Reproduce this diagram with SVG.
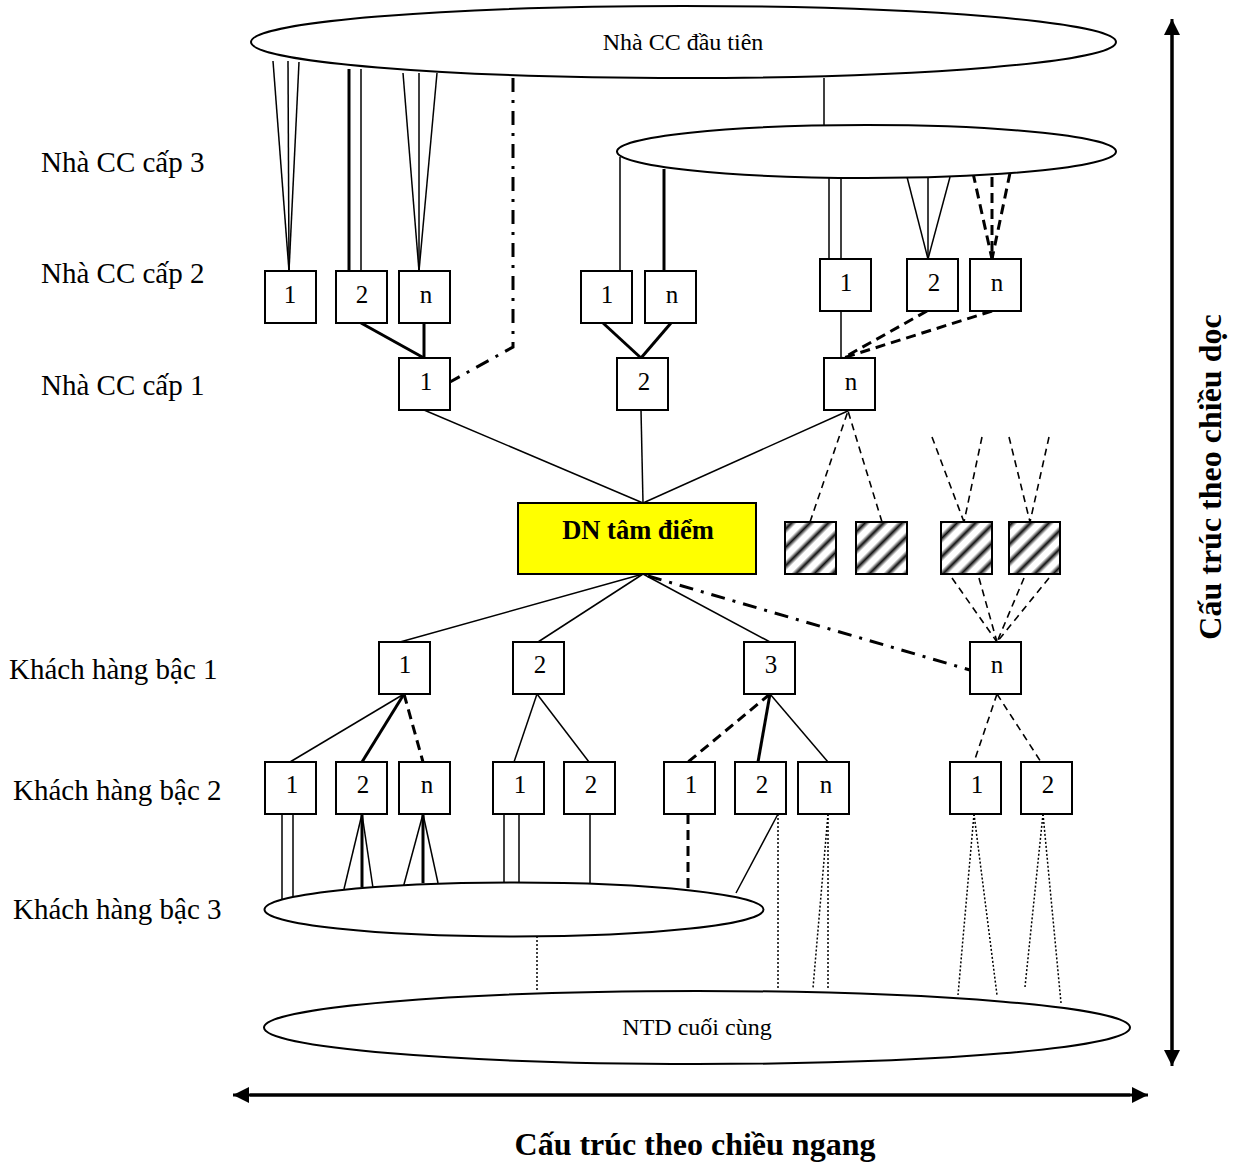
<svg xmlns="http://www.w3.org/2000/svg" width="1243" height="1164" viewBox="0 0 1243 1164">
<style>
.bx{fill:#fff;stroke:#000;stroke-width:2}
.el{fill:#fff;stroke:#000;stroke-width:2}
.t{font-family:"Liberation Serif","Times New Roman",serif;fill:#000}
.lbl{font-size:29px}
.num{font-size:25px;text-anchor:middle}
.ell{font-size:24px;text-anchor:middle}
.ttl{font-size:32px;font-weight:bold;text-anchor:middle}
.th{stroke:#000;stroke-width:1.5;fill:none}
.tk{stroke:#000;stroke-width:3;fill:none}
.dk{stroke:#000;stroke-width:3;fill:none;stroke-dasharray:10 6}
.dn{stroke:#000;stroke-width:1.6;fill:none;stroke-dasharray:7 5}
.dd{stroke:#000;stroke-width:3;fill:none;stroke-dasharray:14 8 3 8}
.dt{stroke:#000;stroke-width:1.5;fill:none;stroke-dasharray:2 2}
</style>
<defs>
<linearGradient id="sg" x1="0" y1="0" x2="1" y2="0">
<stop offset="0" stop-color="#fff"/>
<stop offset="0.2" stop-color="#fff"/>
<stop offset="0.5" stop-color="#111"/>
<stop offset="0.8" stop-color="#fff"/>
<stop offset="1" stop-color="#fff"/>
</linearGradient>
<pattern id="hatch" width="13" height="13" patternUnits="userSpaceOnUse" patternTransform="rotate(45)">
<rect x="0" y="0" width="13" height="13" fill="url(#sg)"/>
</pattern>
<marker id="ah" viewBox="0 0 10 10" refX="10" refY="5" markerWidth="16" markerHeight="16" markerUnits="userSpaceOnUse" orient="auto">
<path d="M0,0 L10,5 L0,10 Z" fill="#000"/>
</marker>
</defs>
<rect width="1243" height="1164" fill="#fff"/>

<g id="connectors">
<line class="th" x1="824" y1="78" x2="824" y2="125"/>
<line class="th" x1="273" y1="61" x2="289" y2="271"/>
<line class="th" x1="288" y1="61" x2="289" y2="271"/>
<line class="th" x1="299" y1="62" x2="289" y2="271"/>
<line class="tk" x1="349" y1="69" x2="349" y2="271"/>
<line class="th" x1="361" y1="69" x2="361" y2="271"/>
<line class="th" x1="403" y1="73" x2="419" y2="271"/>
<line class="th" x1="419" y1="73" x2="419" y2="271"/>
<line class="th" x1="437" y1="73" x2="419" y2="271"/>
<polyline class="dd" points="513,78 513,347 450,382"/>
<line class="tk" x1="361" y1="323" x2="424" y2="358"/>
<line class="tk" x1="424" y1="323" x2="424" y2="358"/>
<line class="th" x1="620" y1="157" x2="620" y2="271"/>
<line class="tk" x1="664" y1="169" x2="664" y2="271"/>
<line class="tk" x1="603" y1="323" x2="641" y2="358"/>
<line class="tk" x1="671" y1="323" x2="641" y2="358"/>
<line class="th" x1="829" y1="178" x2="829" y2="259"/>
<line class="th" x1="841" y1="178" x2="841" y2="259"/>
<line class="th" x1="907" y1="177" x2="928" y2="259"/>
<line class="th" x1="928" y1="177" x2="928" y2="259"/>
<line class="th" x1="950" y1="177" x2="928" y2="259"/>
<line class="dk" x1="973" y1="173" x2="992" y2="259"/>
<line class="dk" x1="992" y1="177" x2="992" y2="259"/>
<line class="dk" x1="1010" y1="173" x2="992" y2="259"/>
<line class="th" x1="841" y1="311" x2="841" y2="358"/>
<line class="dk" x1="927" y1="311" x2="843" y2="358"/>
<line class="dk" x1="992" y1="311" x2="843" y2="358"/>
<line class="th" x1="424" y1="410" x2="643" y2="503"/>
<line class="th" x1="641" y1="410" x2="643" y2="503"/>
<line class="th" x1="850" y1="410" x2="643" y2="503"/>
<line class="dn" x1="810" y1="522" x2="848" y2="411"/>
<line class="dn" x1="882" y1="522" x2="848" y2="411"/>
<line class="dn" x1="932" y1="437" x2="964" y2="522"/>
<line class="dn" x1="982" y1="437" x2="964" y2="522"/>
<line class="dn" x1="1009" y1="437" x2="1030" y2="522"/>
<line class="dn" x1="1049" y1="437" x2="1030" y2="522"/>
<line class="dn" x1="952" y1="578" x2="997" y2="642"/>
<line class="dn" x1="979" y1="578" x2="997" y2="642"/>
<line class="dn" x1="1024" y1="578" x2="997" y2="642"/>
<line class="dn" x1="1049" y1="578" x2="997" y2="642"/>
<line class="th" x1="643" y1="574" x2="400" y2="642"/>
<line class="th" x1="643" y1="574" x2="538" y2="642"/>
<line class="th" x1="643" y1="574" x2="770" y2="642"/>
<line class="dd" x1="648" y1="576" x2="970" y2="670"/>
<line class="th" x1="404" y1="694" x2="290" y2="762"/>
<line class="tk" x1="404" y1="694" x2="362" y2="762"/>
<line class="dk" x1="404" y1="694" x2="423" y2="762"/>
<line class="th" x1="537" y1="694" x2="514" y2="762"/>
<line class="th" x1="537" y1="694" x2="589" y2="762"/>
<line class="dk" x1="770" y1="694" x2="688" y2="762"/>
<line class="tk" x1="770" y1="694" x2="758" y2="762"/>
<line class="th" x1="770" y1="694" x2="828" y2="762"/>
<line class="dn" x1="997" y1="694" x2="974" y2="762"/>
<line class="dn" x1="997" y1="694" x2="1041" y2="762"/>
<line class="th" x1="282" y1="814" x2="282" y2="899"/>
<line class="th" x1="293" y1="814" x2="293" y2="898"/>
<line class="th" x1="362" y1="814" x2="344" y2="889"/>
<line class="tk" x1="362" y1="814" x2="362" y2="887"/>
<line class="th" x1="362" y1="814" x2="373" y2="888"/>
<line class="th" x1="423" y1="814" x2="403" y2="888"/>
<line class="tk" x1="423" y1="814" x2="423" y2="883"/>
<line class="th" x1="423" y1="814" x2="438" y2="883"/>
<line class="th" x1="504" y1="814" x2="504" y2="883"/>
<line class="th" x1="519" y1="814" x2="519" y2="883"/>
<line class="th" x1="590" y1="814" x2="590" y2="883"/>
<line class="dk" x1="688" y1="814" x2="688" y2="889"/>
<line class="th" x1="778" y1="814" x2="736" y2="893"/>
<line class="dt" x1="537" y1="936" x2="537" y2="992"/>
<line class="dt" x1="778" y1="814" x2="778" y2="988"/>
<line class="dt" x1="828" y1="814" x2="813" y2="988"/>
<line class="dt" x1="828" y1="814" x2="828" y2="988"/>
<line class="dt" x1="974" y1="814" x2="958" y2="995"/>
<line class="dt" x1="974" y1="814" x2="997" y2="995"/>
<line class="dt" x1="1043" y1="814" x2="1025" y2="987"/>
<line class="dt" x1="1043" y1="814" x2="1061" y2="1003"/>
<line stroke="#000" stroke-width="3" x1="1172" y1="1050" x2="1172" y2="19" marker-end="url(#ah)"/>
<line stroke="#000" stroke-width="3" x1="1172" y1="35" x2="1172" y2="1066" marker-end="url(#ah)"/>
<line stroke="#000" stroke-width="3" x1="1130" y1="1095" x2="233" y2="1095" marker-end="url(#ah)"/>
<line stroke="#000" stroke-width="3" x1="250" y1="1095" x2="1148" y2="1095" marker-end="url(#ah)"/>
</g>

<g id="supplier-first">
<ellipse class="el" cx="683.5" cy="42" rx="432.5" ry="36"/>
<text class="t ell" x="683" y="50">Nhà CC đầu tiên</text>
</g>
<g id="supplier-ellipse-2">
<ellipse class="el" cx="866.5" cy="151.5" rx="249.5" ry="26.5"/>
</g>

<g id="labels">
<text class="t lbl" x="41" y="172">Nhà CC cấp 3</text>
<text class="t lbl" x="41" y="283">Nhà CC cấp 2</text>
<text class="t lbl" x="41" y="395">Nhà CC cấp 1</text>
<text class="t lbl" x="9" y="679">Khách hàng bậc 1</text>
<text class="t lbl" x="13" y="800">Khách hàng bậc 2</text>
<text class="t lbl" x="13" y="919">Khách hàng bậc 3</text>
</g>

<g id="cc2-a1"><rect class="bx" x="265" y="271" width="51" height="52"/><text class="t num" x="290" y="303">1</text></g>
<g id="cc2-a2"><rect class="bx" x="336" y="271" width="51" height="52"/><text class="t num" x="362" y="303">2</text></g>
<g id="cc2-an"><rect class="bx" x="399" y="271" width="51" height="52"/><text class="t num" x="426" y="303">n</text></g>
<g id="cc2-b1"><rect class="bx" x="581" y="271" width="51" height="52"/><text class="t num" x="607" y="303">1</text></g>
<g id="cc2-bn"><rect class="bx" x="645" y="271" width="51" height="52"/><text class="t num" x="672" y="303">n</text></g>
<g id="cc2-c1"><rect class="bx" x="820" y="259" width="51" height="52"/><text class="t num" x="846" y="291">1</text></g>
<g id="cc2-c2"><rect class="bx" x="907" y="259" width="51" height="52"/><text class="t num" x="934" y="291">2</text></g>
<g id="cc2-cn"><rect class="bx" x="970" y="259" width="51" height="52"/><text class="t num" x="997" y="291">n</text></g>

<g id="cc1-1"><rect class="bx" x="399" y="358" width="51" height="52"/><text class="t num" x="426" y="390">1</text></g>
<g id="cc1-2"><rect class="bx" x="617" y="358" width="51" height="52"/><text class="t num" x="644" y="390">2</text></g>
<g id="cc1-n"><rect class="bx" x="824" y="358" width="51" height="52"/><text class="t num" x="851" y="390">n</text></g>

<g id="dn">
<rect x="518" y="503" width="238" height="71" fill="#ffff00" stroke="#000" stroke-width="2"/>
<text class="t" x="638" y="539" font-size="26.5" font-weight="bold" text-anchor="middle">DN tâm điểm</text>
</g>

<g id="hatched-1"><rect x="785" y="522" width="51" height="52" fill="url(#hatch)" stroke="#000" stroke-width="2"/></g>
<g id="hatched-2"><rect x="856" y="522" width="51" height="52" fill="url(#hatch)" stroke="#000" stroke-width="2"/></g>
<g id="hatched-3"><rect x="941" y="522" width="51" height="52" fill="url(#hatch)" stroke="#000" stroke-width="2"/></g>
<g id="hatched-4"><rect x="1009" y="522" width="51" height="52" fill="url(#hatch)" stroke="#000" stroke-width="2"/></g>

<g id="kh1-1"><rect class="bx" x="379" y="642" width="51" height="52"/><text class="t num" x="405" y="673">1</text></g>
<g id="kh1-2"><rect class="bx" x="513" y="642" width="51" height="52"/><text class="t num" x="540" y="673">2</text></g>
<g id="kh1-3"><rect class="bx" x="744" y="642" width="51" height="52"/><text class="t num" x="771" y="673">3</text></g>
<g id="kh1-n"><rect class="bx" x="970" y="642" width="51" height="52"/><text class="t num" x="997" y="673">n</text></g>

<g id="kh2-a1"><rect class="bx" x="265" y="762" width="51" height="52"/><text class="t num" x="292" y="793">1</text></g>
<g id="kh2-a2"><rect class="bx" x="336" y="762" width="51" height="52"/><text class="t num" x="363" y="793">2</text></g>
<g id="kh2-an"><rect class="bx" x="399" y="762" width="51" height="52"/><text class="t num" x="427" y="793">n</text></g>
<g id="kh2-b1"><rect class="bx" x="493" y="762" width="51" height="52"/><text class="t num" x="520" y="793">1</text></g>
<g id="kh2-b2"><rect class="bx" x="564" y="762" width="51" height="52"/><text class="t num" x="591" y="793">2</text></g>
<g id="kh2-c1"><rect class="bx" x="664" y="762" width="51" height="52"/><text class="t num" x="691" y="793">1</text></g>
<g id="kh2-c2"><rect class="bx" x="735" y="762" width="51" height="52"/><text class="t num" x="762" y="793">2</text></g>
<g id="kh2-cn"><rect class="bx" x="798" y="762" width="51" height="52"/><text class="t num" x="826" y="793">n</text></g>
<g id="kh2-n1"><rect class="bx" x="950" y="762" width="51" height="52"/><text class="t num" x="977" y="793">1</text></g>
<g id="kh2-n2"><rect class="bx" x="1021" y="762" width="51" height="52"/><text class="t num" x="1048" y="793">2</text></g>

<g id="kh3">
<ellipse class="el" cx="514" cy="909.5" rx="249.5" ry="27" fill="none"/>
</g>
<g id="ntd">
<ellipse class="el" cx="697" cy="1027.5" rx="433" ry="36.5" fill="none"/>
<text class="t ell" x="697" y="1035">NTD cuối cùng</text>
</g>

<g id="axis-labels">
<text class="t ttl" transform="translate(1221,477) rotate(-90)" x="0" y="0">Cấu trúc theo chiều dọc</text>
<text class="t ttl" x="695" y="1155">Cấu trúc theo chiều ngang</text>
</g>
</svg>
